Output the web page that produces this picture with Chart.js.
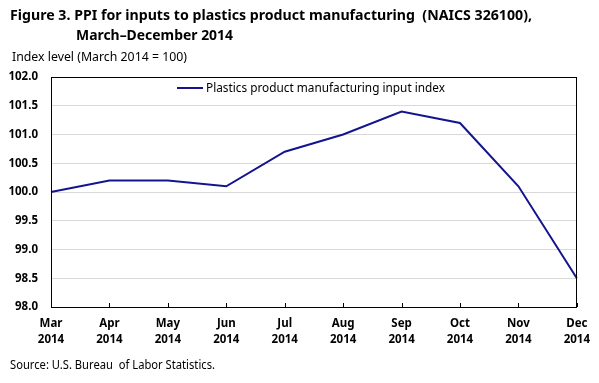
<!DOCTYPE html>
<html>
<head>
<meta charset="utf-8">
<script src="https://cdn.jsdelivr.net/npm/chart.js@4/dist/chart.umd.min.js"></script>
<style>
  html, body { margin: 0; padding: 0; background: #fff; }
  #wrap { position: relative; width: 599px; height: 383px; }
  canvas { display: block; }
</style>
</head>
<body>
<div id="wrap"><canvas id="c" width="599" height="383"></canvas></div>
<script>
// ---- data ----
const categories = ['Mar', 'Apr', 'May', 'Jun', 'Jul', 'Aug', 'Sep', 'Oct', 'Nov', 'Dec'];
const yearLabel = '2014';
const seriesLabel = 'Plastics product manufacturing input index';
const inputIndex = [100.0, 100.2, 100.2, 100.1, 100.7, 101.0, 101.4, 101.2, 100.1, 98.5];
const yMin = 98.0;
const yMax = 102.0;
const yStep = 0.5;
const titleLine1 = 'Figure 3. PPI for inputs to plastics product manufacturing  (NAICS 326100),';
const titleLine2 = 'March\u2013December 2014';
const yAxisTitle = 'Index level (March 2014 = 100)';
const sourceNote = 'Source: U.S. Bureau  of Labor Statistics.';

const FONT = "'Noto Sans', 'Open Sans', sans-serif";
const LINE_COLOR = '#14148f';

function drawFitted(ctx, text, x, y, font, targetW) {
  ctx.font = font;
  const w = ctx.measureText(text).width;
  const s = targetW ? targetW / w : 1;
  ctx.save();
  ctx.translate(x, y);
  ctx.scale(s, 1);
  ctx.fillText(text, 0, 0);
  ctx.restore();
}

const decorPlugin = {
  id: 'decor',
  afterDraw(chart) {
    const ctx = chart.ctx;
    const a = chart.chartArea;
    ctx.save();
    // frame
    ctx.strokeStyle = '#000';
    ctx.lineWidth = 1;
    ctx.strokeRect(Math.round(a.left) + 0.5, Math.round(a.top) + 0.5,
                   Math.round(a.right - a.left) - 1, Math.round(a.bottom - a.top));
    // inward x ticks
    const xs = chart.scales.x;
    ctx.beginPath();
    for (let i = 0; i < xs.ticks.length; i++) {
      const px = Math.round(xs.getPixelForTick(i)) + 0.5;
      ctx.moveTo(px, a.bottom);
      ctx.lineTo(px, a.bottom - 4);
    }
    ctx.stroke();

    // texts
    ctx.fillStyle = '#000';
    ctx.textBaseline = 'alphabetic';
    ctx.textAlign = 'left';
    drawFitted(ctx, titleLine1, 10, 20, 'bold 14.5px ' + FONT, 522);
    drawFitted(ctx, titleLine2, 76, 40, 'bold 14.5px ' + FONT, 157);
    drawFitted(ctx, yAxisTitle, 12, 61, '12px ' + FONT, 175);
    drawFitted(ctx, sourceNote, 10, 369, '12px ' + FONT, 205);

    // legend
    const ds = chart.data.datasets[0];
    ctx.strokeStyle = ds.borderColor;
    ctx.lineWidth = 2;
    ctx.beginPath();
    ctx.moveTo(177, 88);
    ctx.lineTo(203, 88);
    ctx.stroke();
    ctx.fillStyle = '#000';
    drawFitted(ctx, ds.label, 206, 92, '12px ' + FONT, 239);
    ctx.restore();
  }
};

new Chart(document.getElementById('c'), {
  type: 'line',
  data: {
    labels: categories.map(m => [m, yearLabel]),
    datasets: [{
      label: seriesLabel,
      data: inputIndex,
      borderColor: LINE_COLOR,
      backgroundColor: LINE_COLOR,
      borderWidth: 2,
      pointRadius: 0,
      tension: 0,
      fill: false
    }]
  },
  options: {
    responsive: false,
    animation: false,
    devicePixelRatio: 1,
    layout: { padding: { left: 0, right: 22, top: 77, bottom: 0 } },
    plugins: {
      legend: { display: false },
      title: { display: false },
      tooltip: { enabled: false }
    },
    scales: {
      x: {
        offset: false,
        grid: { display: false, drawTicks: false },
        border: { display: true, color: '#000', width: 1 },
        ticks: {
          color: '#000',
          font: { family: FONT, size: 11.5, weight: 'bold', lineHeight: 1.4 },
          padding: 9,
          maxRotation: 0,
          autoSkip: false
        },
        afterFit(scale) { scale.height = 383 - 307; }
      },
      y: {
        min: yMin,
        max: yMax,
        grid: { color: '#d9d9d9', lineWidth: 1, drawTicks: false },
        border: { display: true, color: '#000', width: 1 },
        ticks: {
          stepSize: yStep,
          color: '#000',
          font: { family: FONT, size: 11.5, weight: 'bold' },
          padding: 13,
          callback: v => Number(v).toFixed(1)
        },
        afterFit(scale) { scale.width = 51; }
      }
    }
  },
  plugins: [decorPlugin]
});
</script>
</body>
</html>
